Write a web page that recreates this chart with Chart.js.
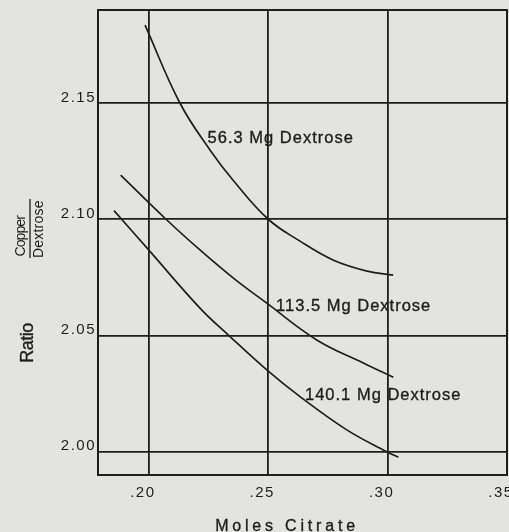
<!DOCTYPE html>
<html>
<head>
<meta charset="utf-8">
<script src="https://cdn.jsdelivr.net/npm/chart.js@4.4.1/dist/chart.umd.min.js"></script>
<style>
  html, body { margin: 0; padding: 0; background: #e3e3e1; }
  #wrap { width: 509px; height: 532px; }
</style>
</head>
<body>
<div id="wrap"><canvas id="citrateChart"></canvas></div>
<script>
// axis ticks
const xTicks = [0.20, 0.25, 0.30, 0.35];
const yTicks = [2.00, 2.05, 2.10, 2.15];

// 56.3 Mg dextrose
const citrate56 = [0.1984, 0.2130, 0.2256, 0.2352, 0.2500, 0.2633, 0.2771, 0.2914, 0.3023];
const ratio56 = [2.1835, 2.1500, 2.1298, 2.1169, 2.1000, 2.0906, 2.0825, 2.0777, 2.0760];

// 113.5 Mg dextrose
const citrate113 = [0.1882, 0.2072, 0.2214, 0.2354, 0.2494, 0.2703, 0.2898, 0.3024];
const ratio113 = [2.1190, 2.1000, 2.0868, 2.0747, 2.0639, 2.0481, 2.0382, 2.0320];

// 140.1 Mg dextrose
const citrate140 = [0.1854, 0.2001, 0.2214, 0.2333, 0.2494, 0.2633, 0.2829, 0.2996, 0.3045];
const ratio140 = [2.1037, 2.0866, 2.0618, 2.0502, 2.0352, 2.0237, 2.0094, 2.0000, 1.9976];

// curve labels, anchored at (citrate, ratio)
const curveNames = ["56.3 Mg Dextrose", "113.5 Mg Dextrose", "140.1 Mg Dextrose"];
const labelCitrate = [0.2246, 0.2533, 0.2654];
const labelRatio = [2.1348, 2.0627, 2.0244];

const ink = "#1e1e1e";

function pairs(xs, ys) {
  return xs.map((x, i) => ({ x: x, y: ys[i] }));
}

function curve(xs, ys) {
  return {
    data: pairs(xs, ys),
    borderColor: ink,
    borderWidth: 1.7,
    pointRadius: 0,
    fill: false,
    tension: 0.4
  };
}

const paperText = {
  id: "paperText",
  beforeDraw(chart) {
    chart.ctx.letterSpacing = "1.5px";
  },
  beforeDatasetsDraw(chart) {
    const { ctx, chartArea: a } = chart;
    ctx.save();
    ctx.strokeStyle = ink;
    ctx.lineWidth = 2;
    ctx.strokeRect(a.left, a.top, a.right - a.left, a.bottom - a.top);
    ctx.restore();
  },
  afterDatasetsDraw(chart) {
    // x tick labels are drawn after this (z: 1), spaced wider
    chart.ctx.letterSpacing = "4.5px";
  },
  afterDraw(chart) {
    const { ctx, chartArea: a, scales } = chart;
    ctx.save();
    ctx.fillStyle = ink;
    ctx.strokeStyle = ink;
    ctx.lineWidth = 0.35;

    ctx.font = "16.5px 'Liberation Sans'";
    ctx.letterSpacing = "1px";
    ctx.textAlign = "left";
    ctx.textBaseline = "middle";
    curveNames.forEach((name, i) => {
      const px = scales.x.getPixelForValue(labelCitrate[i]);
      const py = scales.y.getPixelForValue(labelRatio[i]);
      ctx.fillText(name, px, py);
      ctx.strokeText(name, px, py);
    });

    ctx.font = "16px 'Liberation Sans'";
    ctx.letterSpacing = "3.8px";
    ctx.textAlign = "center";
    ctx.textBaseline = "alphabetic";
    ctx.fillText("Moles Citrate", a.left + 189, chart.height - 1.5);
    ctx.strokeText("Moles Citrate", a.left + 189, chart.height - 1.5);

    ctx.textAlign = "left";
    ctx.save();
    ctx.translate(33, 343);
    ctx.rotate(-Math.PI / 2);
    ctx.textAlign = "center";
    ctx.font = "18px 'Liberation Sans'";
    ctx.letterSpacing = "-0.5px";
    ctx.fillText("Ratio", 0, 0);
    ctx.strokeText("Ratio", 0, 0);
    ctx.restore();

    ctx.save();
    ctx.translate(25, 256.5);
    ctx.rotate(-Math.PI / 2);
    ctx.font = "14px 'Liberation Sans'";
    ctx.letterSpacing = "-0.9px";
    ctx.fillText("Copper", 0, 0);
    ctx.restore();

    ctx.save();
    ctx.translate(42.5, 258);
    ctx.rotate(-Math.PI / 2);
    ctx.font = "14px 'Liberation Sans'";
    ctx.letterSpacing = "0.2px";
    ctx.fillText("Dextrose", 0, 0);
    ctx.restore();

    ctx.lineWidth = 1.3;
    ctx.beginPath();
    ctx.moveTo(30, 199);
    ctx.lineTo(30, 258);
    ctx.stroke();
    ctx.restore();
  }
};

new Chart("citrateChart", {
  type: "line",
  data: {
    datasets: [
      curve(citrate56, ratio56),
      curve(citrate113, ratio113),
      curve(citrate140, ratio140)
    ]
  },
  options: {
    responsive: true,
    maintainAspectRatio: false,
    animation: false,
    layout: {
      autoPadding: false,
      padding: { left: 0, right: 2, top: 10, bottom: 0 }
    },
    plugins: {
      legend: { display: false },
      tooltip: { enabled: false }
    },
    scales: {
      x: {
        type: "linear",
        min: 0.1787,
        max: 0.35,
        z: 1,
        afterBuildTicks: (scale) => {
          scale.ticks = xTicks.map((v) => ({ value: v }));
        },
        afterFit: (scale) => {
          scale.height = 57;
          scale.paddingLeft = 0;
          scale.paddingRight = 0;
        },
        grid: { color: ink, lineWidth: 1.8, drawTicks: false },
        border: { color: ink, width: 2 },
        ticks: {
          color: ink,
          font: { family: "'Liberation Sans'", size: 15 },
          padding: 9,
          labelOffset: -6,
          maxRotation: 0,
          autoSkip: false,
          callback: (v) => v.toFixed(2).replace(/^0/, "")
        }
      },
      y: {
        type: "linear",
        min: 1.99,
        max: 2.19,
        afterBuildTicks: (scale) => {
          scale.ticks = yTicks.map((v) => ({ value: v }));
        },
        afterFit: (scale) => {
          scale.width = 98;
          scale.paddingTop = 0;
          scale.paddingBottom = 0;
        },
        grid: { color: ink, lineWidth: 1.8, drawTicks: false },
        border: { color: ink, width: 2 },
        ticks: {
          color: ink,
          font: { family: "'Liberation Sans'", size: 15 },
          padding: 2,
          labelOffset: -5.5,
          autoSkip: false,
          callback: (v) => v.toFixed(2)
        }
      }
    }
  },
  plugins: [paperText]
});
</script>
</body>
</html>
